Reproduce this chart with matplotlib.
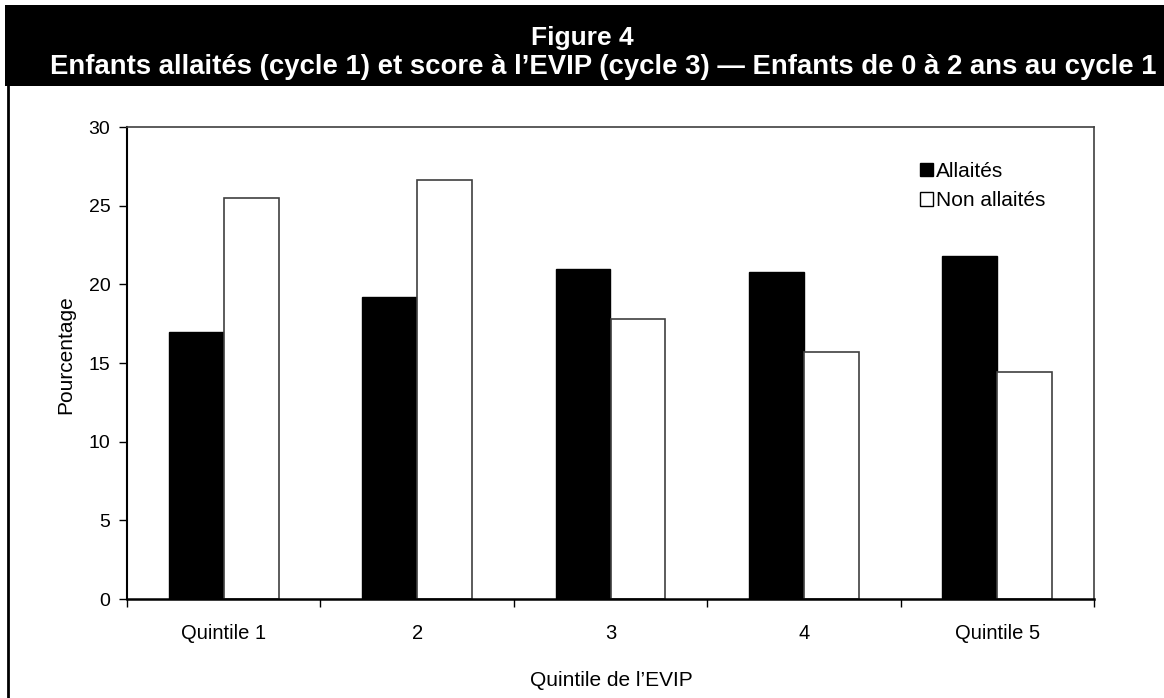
import numpy as np
import matplotlib
matplotlib.use("Agg")
import matplotlib.pyplot as plt
from matplotlib.patches import Rectangle
from matplotlib.lines import Line2D

# ── Data ─────────────────────────────────────────────────────────────────────
categories   = ["Quintile 1", "2", "3", "4", "Quintile 5"]
allaites     = [17.0, 19.2, 21.0, 20.8, 21.8]
non_allaites = [25.5, 26.6, 17.8, 15.7, 14.4]
yticks       = [0, 5, 10, 15, 20, 25, 30]

TITLE    = "Figure 4"
SUBTITLE = "Enfants allaités (cycle 1) et score à l\u2019EVIP (cycle 3) \u2014 Enfants de 0 à 2 ans au cycle 1"

plt.rcParams["font.family"] = ["Liberation Sans", "DejaVu Sans"]

W, H = 1164, 698
fig = plt.figure(figsize=(W / 100, H / 100), dpi=100)

def fx(px):
    return px / W

def fy(py):
    return 1 - py / H

# ── Header band and outer frame ──────────────────────────────────────────────
fig.patches.append(Rectangle((fx(5), fy(86)), fx(W - 5), (86 - 5) / H,
                             transform=fig.transFigure, facecolor="black",
                             edgecolor="none", zorder=0))
fig.lines.append(Line2D([fx(8), fx(8)], [fy(86), 0], transform=fig.transFigure,
                        color="black", lw=2))
fig.text(fx(582), fy(38), TITLE, ha="center", va="center", color="white",
         fontsize=19, fontweight="bold")
fig.text(fx(603), fy(67), SUBTITLE, ha="center", va="center", color="white",
         fontsize=19.8, fontweight="bold")

# ── Bars ─────────────────────────────────────────────────────────────────────
ax = fig.add_axes([fx(127), fy(599), fx(1094 - 127), (599 - 127) / H])
x = np.arange(len(categories))
bw = 0.284
ax.bar(x - bw / 2, allaites, bw, color="black", edgecolor="black",
       linewidth=1, label="Allaités", zorder=2)
ax.bar(x + bw / 2, non_allaites, bw, color="white", edgecolor="#404040",
       linewidth=1.2, label="Non allaités", zorder=2)

ax.set_xlim(-0.5, len(categories) - 0.5)
ax.set_ylim(0, 30)
ax.set_yticks(yticks)

# tick marks between groups, labels under the groups
ax.set_xticks(np.arange(-0.5, len(categories)), minor=False)
ax.set_xticklabels([])
ax.set_xticks(x, minor=True)
ax.set_xticklabels(categories, minor=True)
ax.tick_params(axis="x", which="major", direction="out", length=6, width=1)
ax.tick_params(axis="x", which="minor", length=0, pad=18, labelsize=14.5)
ax.tick_params(axis="y", direction="out", length=6, width=1, pad=6,
               labelsize=14)

for side in ["left", "bottom", "top", "right"]:
    ax.spines[side].set_linewidth(1.2)
ax.spines["bottom"].set_linewidth(1.8)
ax.spines["left"].set_linewidth(1.5)
ax.spines["top"].set_color("#404040")
ax.spines["right"].set_color("#404040")

fig.text(fx(66), fy(355), "Pourcentage", rotation=90, ha="center",
         va="center", fontsize=15)
fig.text(fx(611), fy(681), "Quintile de l\u2019EVIP", ha="center",
         va="center", fontsize=15)

leg = ax.legend(loc="upper left", bbox_to_anchor=(fx(920), fy(162)),
                bbox_transform=fig.transFigure, frameon=False,
                fontsize=15, handlelength=0.62, handleheight=0.62,
                handletextpad=0.15, labelspacing=0.5, borderpad=0,
                borderaxespad=0)
for h in leg.legend_handles:
    h.set_linewidth(1)
    h.set_edgecolor("black")

fig.savefig("out.png", dpi=100)
